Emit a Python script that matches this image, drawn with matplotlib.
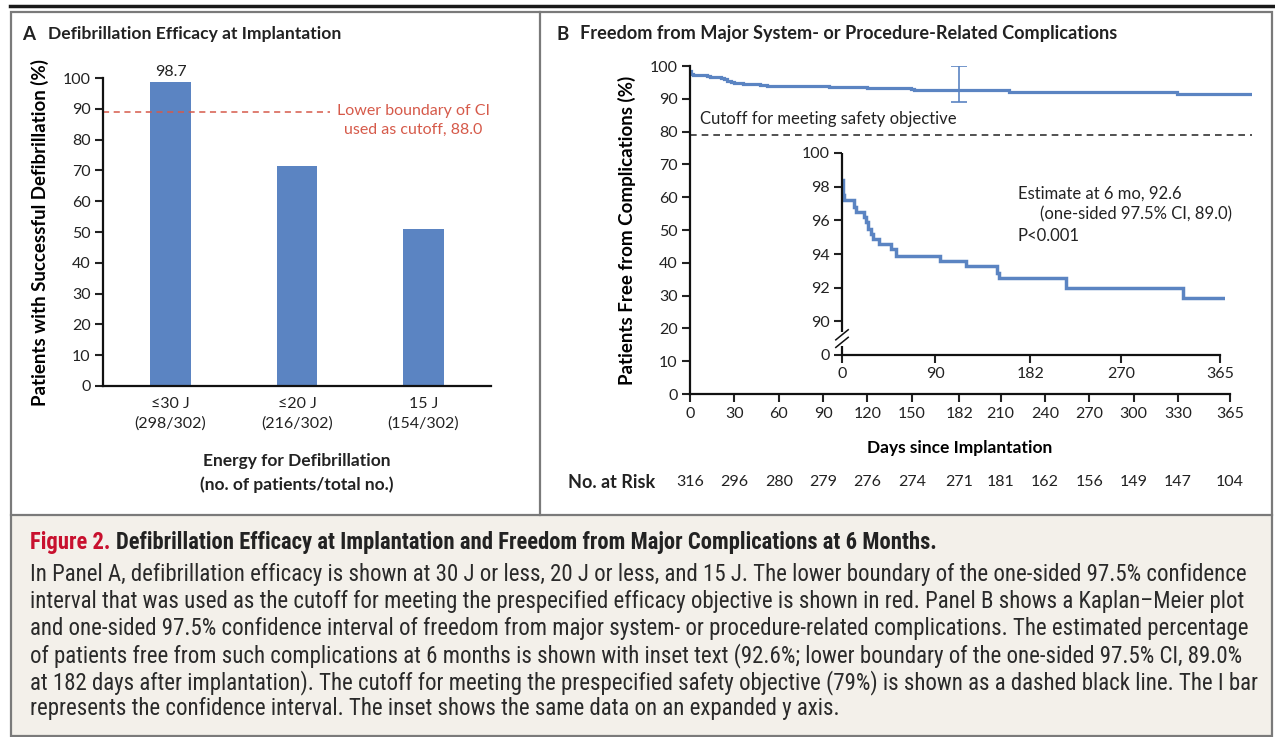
import numpy as np
import matplotlib.pyplot as plt
from matplotlib import font_manager
from matplotlib.patches import Rectangle
from matplotlib.lines import Line2D
import matplotlib.transforms as mtransforms

# ---- Panel A data ----
energy_labels = ['≤30 J\n(298/302)', '≤20 J\n(216/302)', '15 J\n(154/302)']
efficacy = [98.7, 71.5, 51.0]
ci_cutoff_label = 88.0
ci_cutoff_drawn = 89.0   # where the dashed line sits in the original
a_yticks = list(range(0, 101, 10))

# ---- Panel B data (Kaplan-Meier) ----
km_days = [0, 0.5, 2, 11.6, 13.8, 20.9, 22.8, 25, 27.6, 29.9, 35.7, 47.6,
           52.4, 94.2, 119.9, 149.7, 151.3, 216, 329, 380]
km_surv = [98.4, 97.5, 97.2, 96.8, 96.5, 96.2, 95.9, 95.5, 95.2, 94.9, 94.6,
           94.3, 93.9, 93.6, 93.3, 92.9, 92.6, 92.0, 91.4, 91.4]
est_day, est_val, ci_low, ci_high = 182, 92.6, 89.0, 100.0
safety_cutoff = 79
b_xticks = [0, 30, 60, 90, 120, 150, 182, 210, 240, 270, 300, 330, 365]
at_risk = [316, 296, 280, 279, 276, 274, 271, 181, 162, 156, 149, 147, 104]
b_yticks = list(range(0, 101, 10))
inset_xticks = [0, 90, 182, 270, 365]
inset_yticks = [88, 90, 92, 94, 96, 98, 100]
inset_ylabels = ['0', '90', '92', '94', '96', '98', '100']

caption_title = 'Defibrillation Efficacy at Implantation and Freedom from Major Complications at 6 Months.'
caption_lines = [
    'In Panel A, defibrillation efficacy is shown at 30 J or less, 20 J or less, and 15 J. The lower boundary of the one-sided 97.5% confidence',
    'interval that was used as the cutoff for meeting the prespecified efficacy objective is shown in red. Panel B shows a Kaplan\u2013Meier plot',
    'and one-sided 97.5% confidence interval of freedom from major system- or procedure-related complications. The estimated percentage',
    'of patients free from such complications at 6 months is shown with inset text (92.6%; lower boundary of the one-sided 97.5% CI, 89.0%',
    'at 182 days after implantation). The cutoff for meeting the prespecified safety objective (79%) is shown as a dashed black line. The I bar',
    'represents the confidence interval. The inset shows the same data on an expanded y axis.',
]

BLUE = '#5b84c2'
RED = '#d65a4a'
W, H = 1275, 737

names = {f.name for f in font_manager.fontManager.ttflist}
cap_font = 'Lato'
for cand in ['Liberation Sans Narrow', 'Roboto Condensed', 'Open Sans Condensed', 'Roboto']:
    if cand in names:
        cap_font = cand
        break

plt.rcParams['font.family'] = ['Lato', 'DejaVu Sans']
plt.rcParams['text.color'] = '#222222'
plt.rcParams['xtick.color'] = '#222222'
plt.rcParams['ytick.color'] = '#222222'


def fx(px):
    return px / W


def fy(py):
    return 1 - py / H


def axes_px(fig, left, top, right, bottom):
    return fig.add_axes([fx(left), fy(bottom), (right - left) / W, (bottom - top) / H])


def style(ax):
    for s in ['top', 'right']:
        ax.spines[s].set_visible(False)
    for s in ['left', 'bottom']:
        ax.spines[s].set_linewidth(1.6)
        ax.spines[s].set_color('#111111')
    ax.tick_params(direction='out', length=6, width=1.5, labelsize=11.5, pad=3)
    ax.patch.set_alpha(0)


fig = plt.figure(figsize=(W / 100, H / 100), dpi=100)

# frame and caption background
fig.patches.append(Rectangle((fx(11), fy(736)), fx(1272) - fx(11), fy(515) - fy(736),
                             transform=fig.transFigure, facecolor='#f3f0ea', edgecolor='none', zorder=0))
fig.patches.append(Rectangle((fx(11), fy(736)), fx(1272) - fx(11), fy(12) - fy(736),
                             transform=fig.transFigure, facecolor='none', edgecolor='#7a7a7a', lw=1.6, zorder=1))
fig.lines.append(Line2D([fx(11), fx(1272)], [fy(515), fy(515)], transform=fig.transFigure, color='#7a7a7a', lw=1.6))
fig.lines.append(Line2D([fx(540), fx(540)], [fy(12), fy(515)], transform=fig.transFigure, color='#7a7a7a', lw=1.6))
fig.lines.append(Line2D([fx(10), fx(1275)], [fy(6), fy(6)], transform=fig.transFigure, color='#1a1a1a', lw=2.5))

# ---------------- Panel A ----------------
fig.text(fx(22), fy(34), 'A', fontsize=13.5, fontweight='bold', va='center')
fig.text(fx(48), fy(34), 'Defibrillation Efficacy at Implantation', fontsize=12.6, fontweight='bold', va='center')

axA = axes_px(fig, 103, 78, 491, 386)
style(axA)
x = np.arange(len(efficacy))
axA.bar(x, efficacy, width=0.324, color=BLUE)
axA.set_xlim(-0.534, 2.534)
axA.set_ylim(0, 100)
axA.set_yticks(a_yticks)
axA.set_xticks(x)
axA.set_xticklabels(energy_labels, fontsize=11.5, linespacing=1.45)
axA.tick_params(axis='x', length=0, pad=8)
axA.text(x[0], efficacy[0] + 1.0, f'{efficacy[0]:.1f}', ha='center', va='bottom', fontsize=11.5)
axA.axhline(ci_cutoff_drawn, xmin=0, xmax=0.585, color=RED, lw=1.1, ls=(0, (4, 3)))
axA.text(1.92, ci_cutoff_drawn, f'Lower boundary of CI\nused as cutoff, {ci_cutoff_label:.1f}',
         color=RED, fontsize=11.5, ha='center', va='top', linespacing=1.5,
         transform=axA.transData + mtransforms.ScaledTranslation(0, 8 / 100, fig.dpi_scale_trans))
axA.set_ylabel('Patients with Successful Defibrillation (%)', fontsize=13.5, fontweight='bold')
axA.yaxis.label.set_va('center')
axA.yaxis.set_label_coords(-(103 - 40) / (491 - 103), (386 - 232) / (386 - 78))
fig.text(fx(297), fy(461), 'Energy for Defibrillation', fontsize=12.5, fontweight='bold', ha='center', va='center')
fig.text(fx(297), fy(485), '(no. of patients/total no.)', fontsize=12.5, fontweight='bold', ha='center', va='center')

# ---------------- Panel B ----------------
fig.text(fx(556), fy(34), 'B', fontsize=13.5, fontweight='bold', va='center')
fig.text(fx(580), fy(34), 'Freedom from Major System- or Procedure-Related Complications',
         fontsize=13.1, fontweight='bold', va='center')

axB = axes_px(fig, 690, 66, 1252, 394)
style(axB)
axB.plot(km_days, km_surv, drawstyle='steps-post', color=BLUE, lw=2.3, solid_joinstyle='miter')
axB.errorbar([est_day], [est_val], yerr=[[est_val - ci_low], [ci_high - est_val]],
             fmt='none', ecolor=BLUE, elinewidth=1.2, capsize=6, capthick=1.2)
axB.axhline(safety_cutoff, color='#333333', lw=1.2, ls=(0, (4, 3)))
axB.text(6.5, safety_cutoff + 2.5, 'Cutoff for meeting safety objective', fontsize=12, va='bottom')
axB.set_xlim(0, 380)
axB.set_ylim(0, 100)
axB.spines['bottom'].set_bounds(0, 365)
axB.set_xticks(b_xticks)
axB.set_yticks(b_yticks)
axB.set_xlabel('Days since Implantation', fontsize=12.5, fontweight='bold')
axB.xaxis.label.set_va('center')
axB.xaxis.set_label_coords((960 - 690) / (1252 - 690), -(448 - 394) / (394 - 66))
axB.set_ylabel('Patients Free from Complications (%)', fontsize=13.5, fontweight='bold')
axB.yaxis.label.set_va('center')
axB.yaxis.set_label_coords(-(690 - 627) / (1252 - 690), (394 - 230) / (394 - 66))

# number at risk row
risk_tf = mtransforms.blended_transform_factory(axB.transData, fig.transFigure)
fig.text(fx(655), fy(482), 'No. at Risk', fontsize=13, fontweight='bold', ha='right', va='center')
for d, n in zip(b_xticks, at_risk):
    axB.text(d, fy(482), str(n), transform=risk_tf, fontsize=11.5, ha='center', va='center')

# inset
axI = axes_px(fig, 842, 153, 1225, 355)
style(axI)
axI.plot(km_days, km_surv, drawstyle='steps-post', color=BLUE, lw=2.5, solid_joinstyle='miter')
axI.set_xlim(0, 370)
axI.set_ylim(88, 100)
axI.spines['bottom'].set_bounds(0, 365)
axI.spines['left'].set_visible(False)
axI.set_xticks(inset_xticks)
axI.set_yticks(inset_yticks)
axI.set_yticklabels(inset_ylabels)
# broken left spine with // marks
axI.plot([0, 0], [88, 88.55], color='#111111', lw=1.6, clip_on=False, solid_capstyle='butt')
axI.plot([0, 0], [89.35, 100], color='#111111', lw=1.6, clip_on=False, solid_capstyle='butt')
for dy in (0, 0.45):
    axI.plot([-6, 6], [88.45 + dy, 89.05 + dy], color='#111111', lw=1.1, clip_on=False)
axI.text(170, 97.6, 'Estimate at 6 mo, 92.6', fontsize=12, va='center')
axI.text(191, 96.35, '(one-sided 97.5% CI, 89.0)', fontsize=12, va='center')
axI.text(170, 95.05, 'P<0.001', fontsize=12, va='center')

# ---------------- Caption ----------------
cap_fam = [cap_font, 'DejaVu Sans']
fig.canvas.draw()
renderer = fig.canvas.get_renderer()

# title: fit "Figure 2. ..." to span x=30..938
t1 = fig.text(fx(30), fy(542), 'Figure 2.', fontsize=13, fontweight='bold', color='#c8102e',
              va='center', family=cap_fam)
t2 = fig.text(fx(30), fy(542), caption_title, fontsize=13, fontweight='bold', va='center', family=cap_fam)
w_total = t1.get_window_extent(renderer).width + 5 + t2.get_window_extent(renderer).width
size_t = 13 * (938 - 30) / w_total
t1.set_fontsize(size_t)
t2.set_fontsize(size_t)
t2.set_x(fx(30 + t1.get_window_extent(renderer).width + 5))

# body: fit the widest line to end near x=1256
body = [fig.text(fx(30), fy(575 + i * 26.8), line, fontsize=12, va='center',
                 family=cap_fam, color='#2a2a2a') for i, line in enumerate(caption_lines)]
max_w = max(t.get_window_extent(renderer).width for t in body)
size_b = 12 * (1256 - 30) / max_w
for t in body:
    t.set_fontsize(size_b)

fig.savefig('out.png', dpi=100)
